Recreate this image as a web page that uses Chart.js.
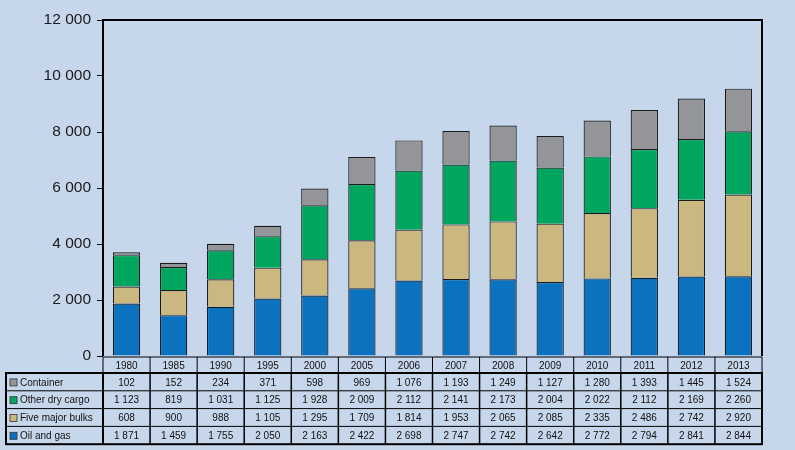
<!DOCTYPE html>
<html>
<head>
<meta charset="utf-8">
<script src="https://cdn.jsdelivr.net/npm/chart.js@4/dist/chart.umd.min.js"></script>
<style>
  body { margin: 0; background: #c6d7ec; }
  #wrap { width: 795px; height: 450px; }
</style>
</head>
<body>
<div id="wrap"><canvas id="myChart" width="795" height="450"></canvas></div>
<script>
var anos = ['1980', '1985', '1990', '1995', '2000', '2005', '2006', '2007', '2008', '2009', '2010', '2011', '2012', '2013'];
var oil_gas = [1871, 1459, 1755, 2050, 2163, 2422, 2698, 2747, 2742, 2642, 2772, 2794, 2841, 2844];
var five_bulks = [608, 900, 988, 1105, 1295, 1709, 1814, 1953, 2065, 2085, 2335, 2486, 2742, 2920];
var other_dry = [1123, 819, 1031, 1125, 1928, 2009, 2112, 2141, 2173, 2004, 2022, 2112, 2169, 2260];
var container = [102, 152, 234, 371, 598, 969, 1076, 1193, 1249, 1127, 1280, 1393, 1445, 1524];
var y_ticks = [0, 2000, 4000, 6000, 8000, 10000, 12000];

function fmt(n) {
    return String(n).replace(/\B(?=(\d{3})+(?!\d))/g, ' ');
}

// tabela por baixo do grafico (ordem de cima para baixo)
var linhas = [
    { nome: 'Container', cor: '#939598', dados: container },
    { nome: 'Other dry cargo', cor: '#00a65d', dados: other_dry },
    { nome: 'Five major bulks', cor: '#cbb780', dados: five_bulks },
    { nome: 'Oil and gas', cor: '#0a72bf', dados: oil_gas }
];

var tabelaPlugin = {
    id: 'tabela',
    afterDraw: function (chart) {
        var ctx = chart.ctx;
        var area = chart.chartArea;
        var xs = chart.scales.x;
        var w = (area.right - area.left) / anos.length;
        var topo = area.bottom + 1;
        var hCab = 16;
        var yData = topo + hCab;
        var hLinha = 17.8;
        var esq = 6;
        ctx.save();

        // moldura do grafico
        ctx.strokeStyle = '#000';
        ctx.lineWidth = 2;
        ctx.beginPath();
        ctx.moveTo(area.left, area.bottom);
        ctx.lineTo(area.left, area.top);
        ctx.lineTo(area.right, area.top);
        ctx.lineTo(area.right, area.bottom);
        ctx.stroke();

        ctx.font = '10px "Liberation Sans", Arial, sans-serif';
        ctx.fillStyle = '#111';
        ctx.textAlign = 'center';
        ctx.textBaseline = 'middle';

        // cabecalho com os anos
        ctx.lineWidth = 1;
        ctx.beginPath();
        ctx.moveTo(area.left, topo);
        ctx.lineTo(area.right, topo);
        for (var i = 0; i <= anos.length; i++) {
            var xl = area.left + i * w;
            ctx.moveTo(xl, topo);
            ctx.lineTo(xl, yData);
        }
        ctx.stroke();
        anos.forEach(function (a, i) {
            ctx.fillText(a, xs.getPixelForValue(i), topo + hCab / 2 + 1);
        });

        // linhas de dados
        var fundo = yData + hLinha * linhas.length;
        ctx.lineWidth = 1;
        ctx.beginPath();
        for (var r = 1; r < linhas.length; r++) {
            ctx.moveTo(esq, yData + r * hLinha);
            ctx.lineTo(area.right, yData + r * hLinha);
        }
        ctx.stroke();
        ctx.lineWidth = 1.5;
        ctx.beginPath();
        for (var c = 1; c < anos.length; c++) {
            var xc = area.left + c * w;
            ctx.moveTo(xc, yData);
            ctx.lineTo(xc, fundo);
        }
        ctx.stroke();
        ctx.lineWidth = 2;
        ctx.strokeRect(esq, yData, area.right - esq, fundo - yData);
        ctx.beginPath();
        ctx.moveTo(area.left, yData);
        ctx.lineTo(area.left, fundo);
        ctx.stroke();

        linhas.forEach(function (l, r) {
            var yc = yData + r * hLinha + hLinha / 2 + 1;
            ctx.fillStyle = l.cor;
            ctx.fillRect(esq + 4, yc - 4, 7, 7);
            ctx.lineWidth = 0.8;
            ctx.strokeStyle = '#333';
            ctx.strokeRect(esq + 4, yc - 4, 7, 7);
            ctx.fillStyle = '#111';
            ctx.textAlign = 'left';
            ctx.fillText(l.nome, esq + 14, yc);
            ctx.textAlign = 'center';
            l.dados.forEach(function (v, i) {
                ctx.fillText(fmt(v), xs.getPixelForValue(i), yc);
            });
        });
        ctx.restore();
    }
};

var ctx = document.getElementById('myChart').getContext('2d');
var myChart = new Chart(ctx, {
    type: 'bar',
    data: {
        labels: anos,
        datasets: [
            { label: 'Oil and gas', data: oil_gas, backgroundColor: '#0a72bf' },
            { label: 'Five major bulks', data: five_bulks, backgroundColor: '#cbb780' },
            { label: 'Other dry cargo', data: other_dry, backgroundColor: '#00a65d' },
            { label: 'Container', data: container, backgroundColor: '#939598' }
        ].map(function (d) {
            d.borderColor = '#1a1a1a';
            d.borderWidth = 1.2;
            d.barPercentage = 0.58;
            d.categoryPercentage = 1;
            return d;
        })
    },
    options: {
        responsive: false,
        animation: false,
        layout: { padding: { top: 20, right: 33, bottom: 94, left: 0 } },
        plugins: {
            legend: { display: false },
            tooltip: { enabled: false }
        },
        scales: {
            x: {
                stacked: true,
                display: false
            },
            y: {
                stacked: true,
                min: 0,
                max: 12000,
                afterFit: function (s) { s.width = 103; },
                afterBuildTicks: function (s) {
                    s.ticks = y_ticks.map(function (v) { return { value: v }; });
                },
                grid: { drawOnChartArea: false, drawTicks: true, tickLength: 6, color: '#000' },
                border: { display: false },
                ticks: {
                    color: '#1a1a1a',
                    padding: 6,
                    font: { family: '"Liberation Sans", Arial, sans-serif', size: 15.5 },
                    callback: function (v) { return fmt(v); }
                }
            }
        }
    },
    plugins: [tabelaPlugin]
});
</script>
</body>
</html>
